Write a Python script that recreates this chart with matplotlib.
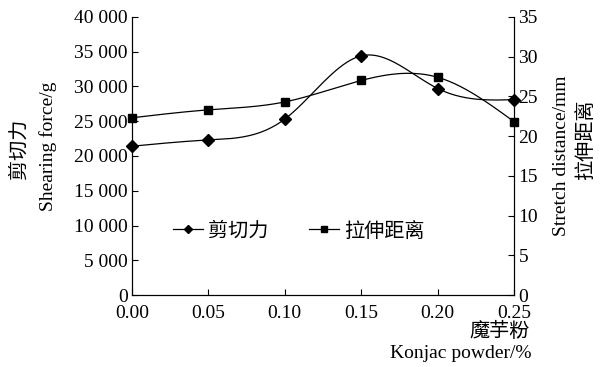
import numpy as np
import matplotlib
matplotlib.use('Agg')
import matplotlib.pyplot as plt
from matplotlib.lines import Line2D

plt.rcParams['font.family'] = ['Liberation Serif', 'Noto Sans CJK SC']
plt.rcParams['font.size'] = 14

# data
konjac = [0.00, 0.05, 0.10, 0.15, 0.20, 0.25]
shear = [21400, 22300, 25300, 34400, 29700, 28100]
stretch = [22.3, 23.3, 24.3, 27.0, 27.4, 21.8]
xticklabels = ['0.00', '0.05', '0.10', '0.15', '0.20', '0.25']


def smooth(x, y, n=200):
    # natural cubic spline through the points
    x = np.asarray(x, float)
    y = np.asarray(y, float)
    k = len(x)
    h = np.diff(x)
    A = np.zeros((k, k))
    b = np.zeros(k)
    A[0, 0] = A[-1, -1] = 1
    for i in range(1, k - 1):
        A[i, i - 1] = h[i - 1]
        A[i, i] = 2 * (h[i - 1] + h[i])
        A[i, i + 1] = h[i]
        b[i] = 6 * ((y[i + 1] - y[i]) / h[i] - (y[i] - y[i - 1]) / h[i - 1])
    M = np.linalg.solve(A, b)
    xs = np.linspace(x[0], x[-1], n)
    idx = np.clip(np.searchsorted(x, xs) - 1, 0, k - 2)
    x0, x1 = x[idx], x[idx + 1]
    hh = x1 - x0
    ys = (M[idx] * (x1 - xs) ** 3 / (6 * hh) + M[idx + 1] * (xs - x0) ** 3 / (6 * hh)
          + (y[idx] / hh - M[idx] * hh / 6) * (x1 - xs)
          + (y[idx + 1] / hh - M[idx + 1] * hh / 6) * (xs - x0))
    return xs, ys


fig = plt.figure(figsize=(6.1, 3.67), dpi=100)
ax = fig.add_axes([0.216, 0.196, 0.627, 0.758])
ax2 = ax.twinx()

xs, ys = smooth(konjac, shear)
ax.plot(xs, ys, color='black', lw=0.9)
ax.plot(konjac, shear, 'D', color='black', ms=6.5, clip_on=False)

xs, ys = smooth(konjac, stretch)
ax2.plot(xs, ys, color='black', lw=0.9)
ax2.plot(konjac, stretch, 's', color='black', ms=6.2, clip_on=False)

ax.set_xlim(0, 0.25)
ax.set_ylim(0, 40000)
ax2.set_ylim(0, 35)
ax.set_xticks(konjac)
ax.set_xticklabels(xticklabels)
ax.set_yticks(range(0, 40001, 5000))
ax.set_yticklabels(['0'] + ['%d 000' % (v // 1000) for v in range(5000, 40001, 5000)])
ax2.set_yticks(range(0, 36, 5))

for a in (ax, ax2):
    a.spines['top'].set_visible(False)
    a.tick_params(direction='in', length=4, width=0.8, labelsize=14, pad=3)
    for s in a.spines.values():
        s.set_linewidth(0.8)
ax.tick_params(axis='x', pad=7)

fig.text(0.033, 0.595, '剪切力', rotation=90, ha='center', va='center', fontsize=14.5)
fig.text(0.079, 0.60, 'Shearing force/g', rotation=90, ha='center', va='center', fontsize=14)
fig.text(0.921, 0.575, 'Stretch distance/mm', rotation=90, ha='center', va='center', fontsize=14)
fig.text(0.962, 0.62, '拉伸距离', rotation=90, ha='center', va='center', fontsize=14.5)
fig.text(0.868, 0.093, '魔芋粉', ha='right', va='center', fontsize=14.5)
fig.text(0.872, 0.038, 'Konjac powder/%', ha='right', va='center', fontsize=14)

handles = [Line2D([], [], color='black', lw=0.9, marker='D', ms=4.5),
           Line2D([], [], color='black', lw=0.9, marker='s', ms=5)]
ax.legend(handles, ['剪切力', '拉伸距离'], ncol=2, frameon=False,
          loc='center', bbox_to_anchor=(0.436, 0.227), handlelength=1.5,
          handletextpad=0.25, columnspacing=2.0, fontsize=14.5)

fig.savefig('out.png', dpi=100)
